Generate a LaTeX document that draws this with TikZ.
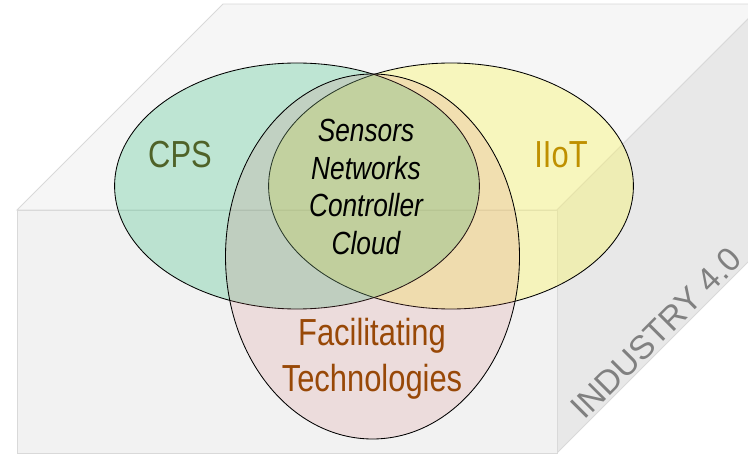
\documentclass[tikz,border=0pt]{standalone}
\usepackage{fontspec}
\setmainfont[FakeStretch=0.82]{Liberation Sans}
\newfontfamily\widesans{Liberation Sans}
\usepackage{tikz}

\definecolor{cpsfill}{HTML}{1AB66E}
\definecolor{iiotfill}{HTML}{FBF65A}
\definecolor{techfill}{HTML}{D47070}
\definecolor{cpstext}{HTML}{4F6228}
\definecolor{iiottext}{HTML}{BF9000}
\definecolor{techtext}{HTML}{984807}

\begin{document}
\begin{tikzpicture}[
        face/.style={draw=black!15, line width=0.6pt},
        venn/.style={draw=black, line width=0.6pt},
        biglabel/.style={font=\fontsize{26.8}{32.7}\selectfont, align=center},
        corelabel/.style={font=\fontsize{22.8}{26.7}\selectfont\itshape, align=center}]
        \clip (0,0) rectangle (18.7,11.425);

        \filldraw[face, fill=black!3.5] (0.425,6.175) -- (5.575,11.325) -- (19.075,11.325) -- (13.925,6.175) -- cycle;
        \filldraw[face, fill=black!9] (13.925,6.175) -- (19.075,11.325) -- (19.075,5.25) -- (13.925,0.1) -- cycle;
        \filldraw[face, fill=black!5] (0.425,0.1) rectangle (13.925,6.175);

        \filldraw[venn, fill=iiotfill, fill opacity=0.36] (11.275,6.775) ellipse (4.56 and 3.075);
        \filldraw[venn, fill=cpsfill, fill opacity=0.25] (7.425,6.775) ellipse (4.56 and 3.075);
        \filldraw[venn, fill=techfill, fill opacity=0.17] (9.3125,5.0125) ellipse (3.675 and 4.5625);

        \node[biglabel, text=cpstext] (cps) at (4.5,7.55) {CPS};
        \node[biglabel, text=iiottext] (iiot) at (14.025,7.55) {IIoT};
        \node[corelabel] (core) at (9.15,6.75) {Sensors\\Networks\\Controller\\Cloud};
        \node[biglabel, text=techtext] (tech) at (9.3,2.45) {Facilitating\\Technologies};
        \node[font=\widesans\fontsize{23.7}{26}\selectfont, text=black!50, rotate=45] (industry) at (16.4,3.1) {INDUSTRY 4.0};
\end{tikzpicture}
\end{document}
